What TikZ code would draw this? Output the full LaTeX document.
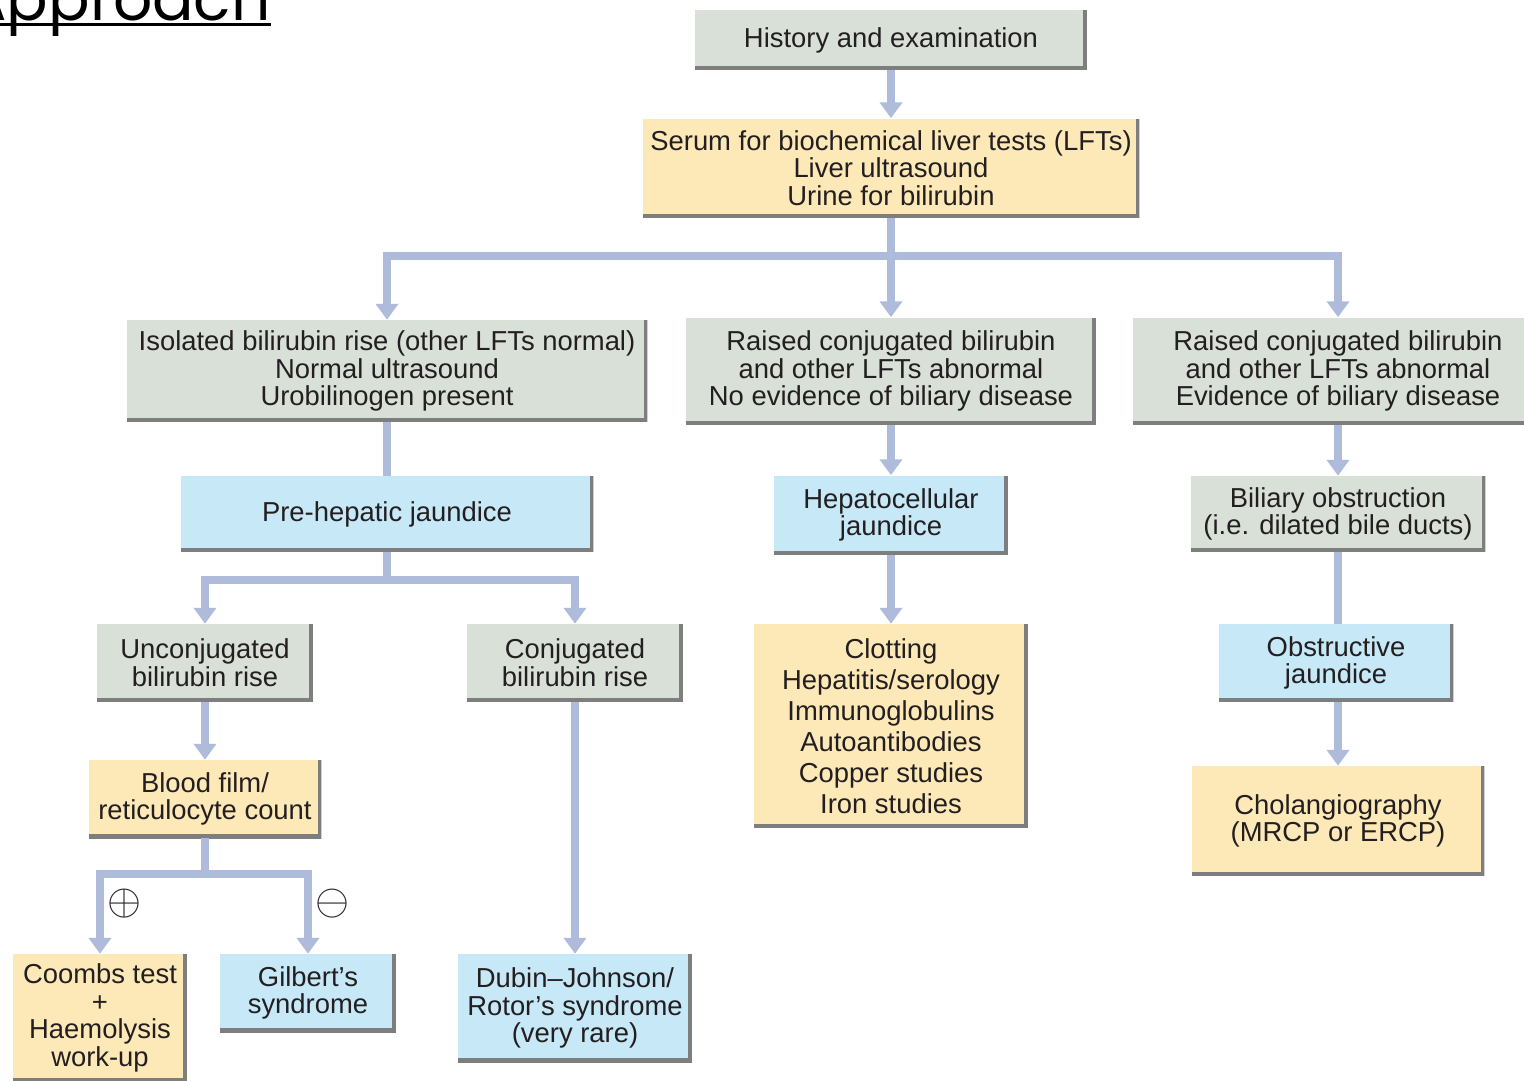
\documentclass[tikz,border=0pt]{standalone}
\usepackage{fontspec}
\setmainfont{Liberation Sans}
\newfontfamily\titlefont{Poppins}
\usetikzlibrary{arrows.meta,calc,positioning}
\definecolor{ink}{HTML}{231F20}
\definecolor{greybox}{HTML}{D8E0D7}
\definecolor{yellowbox}{HTML}{FDE8B8}
\definecolor{bluebox}{HTML}{C6E8F7}
\definecolor{linkblue}{HTML}{AEBBDB}
\definecolor{shadowgrey}{HTML}{7E7E7E}

\begin{document}
\begin{tikzpicture}[x=0.02cm,y=-0.02cm,
  box/.style={rectangle,inner sep=0pt,align=center,text=ink,
    font=\fontsize{15.6}{15.8}\selectfont,
    path picture={\draw[shadowgrey,line width=4pt]
      (path picture bounding box.north east) -- (path picture bounding box.south east)
      -- (path picture bounding box.south west);}},
  finding/.style={box,fill=greybox},
  invest/.style={box,fill=yellowbox},
  diag/.style={box,fill=bluebox},
  link/.style={draw=linkblue,line width=4.2pt},
  arr/.style={link,-{Triangle[width=12.5pt,length=9pt]}},
  sign/.style={inner sep=0pt,text=ink,font=\fontsize{27}{27}\selectfont}]
  \useasboundingbox (0,0) rectangle (1524,1081);
  % heading, cut at the top
  \node[anchor=base east,inner sep=0pt,font=\titlefont\fontsize{35}{35}\selectfont] (title) at (271,21) {Approach};
  \draw[line width=1.4pt] ($(title.base west)+(0,3.5)$) -- ($(title.base east)+(0,3.5)$);
  % boxes
  \node[finding,minimum width=7.84cm,minimum height=1.2cm] (hist) at (891,40) {History and examination};
  \node[invest,minimum width=9.94cm,minimum height=1.98cm] (tests) at (891,168) {Serum for biochemical liver tests (LFTs)\\Liver ultrasound\\Urine for bilirubin};
  \node[finding,minimum width=10.42cm,minimum height=2.04cm] (iso) at (387,371) {Isolated bilirubin rise (other LFTs normal)\\Normal ultrasound\\Urobilinogen present};
  \node[finding,minimum width=8.2cm,minimum height=2.14cm] (hcraise) at (891,371) {Raised conjugated bilirubin\\and other LFTs abnormal\\No evidence of biliary disease};
  \node[finding,minimum width=8.2cm,minimum height=2.14cm] (obraise) at (1338,371) {Raised conjugated bilirubin\\and other LFTs abnormal\\Evidence of biliary disease};
  \node[diag,minimum width=8.26cm,minimum height=1.52cm] (pre) at (387,514) {Pre-hepatic jaundice};
  \node[diag,minimum width=4.68cm,minimum height=1.58cm] (hep) at (891,515) {Hepatocellular\\jaundice};
  \node[finding,minimum width=5.9cm,minimum height=1.52cm] (bilobs) at (1338,514) {Biliary obstruction\\(i.e. dilated bile ducts)};
  \node[finding,minimum width=4.32cm,minimum height=1.56cm] (uncon) at (205,663) {Unconjugated\\bilirubin rise};
  \node[finding,minimum width=4.32cm,minimum height=1.56cm] (con) at (575,663) {Conjugated\\bilirubin rise};
  \node[invest,minimum width=5.48cm,minimum height=4.08cm,font=\fontsize{15.6}{17.6}\selectfont] (clot) at (891,726) {Clotting\\Hepatitis/serology\\Immunoglobulins\\Autoantibodies\\Copper studies\\Iron studies};
  \node[diag,minimum width=4.7cm,minimum height=1.56cm] (obsj) at (1336,663) {Obstructive\\jaundice};
  \node[invest,minimum width=4.66cm,minimum height=1.56cm] (blood) at (205,799) {Blood film/\\reticulocyte count};
  \node[invest,minimum width=5.86cm,minimum height=2.2cm] (chol) at (1338,821) {Cholangiography\\(MRCP or ERCP)};
  \node[invest,minimum width=3.48cm,minimum height=2.56cm] (coombs) at (100,1018) {Coombs test\\+\\Haemolysis\\work-up};
  \node[diag,minimum width=3.52cm,minimum height=1.56cm] (gil) at (308,993) {Gilbert's\\syndrome};
  \node[diag,minimum width=4.68cm,minimum height=2.16cm] (dubin) at (575,1008) {Dubin--Johnson/\\Rotor's syndrome\\(very rare)};
  % branch points
  \coordinate (split1) at (891,256);
  \coordinate (split2) at (387,580);
  \coordinate (split3) at (205,874);
  % connectors
  \draw[arr] (hist) -- (tests);
  \draw[link] (tests) -- (split1);
  \draw[arr] (split1) -| (iso);
  \draw[arr] (split1) -- (hcraise);
  \draw[arr] (split1) -| (obraise);
  \draw[link] (iso) -- (pre);
  \draw[link] (pre) -- (split2);
  \draw[arr] (split2) -| (uncon);
  \draw[arr] (split2) -| (con);
  \draw[arr] (hcraise) -- (hep);
  \draw[arr] (hep) -- (clot);
  \draw[arr] (obraise) -- (bilobs);
  \draw[link] (bilobs.south) -- (bilobs.south |- obsj.north);
  \draw[arr] (chol.north |- obsj.south) -- (chol);
  \draw[arr] (uncon) -- (blood);
  \draw[link] (blood) -- (split3);
  \draw[arr] (split3) -| (coombs);
  \draw[arr] (split3) -| (gil);
  \draw[arr] (con) -- (dubin);
  \node[sign] (plus) at (124,904) {$\oplus$};
  \node[sign] (minus) at (332,904) {$\ominus$};
\end{tikzpicture}
\end{document}
